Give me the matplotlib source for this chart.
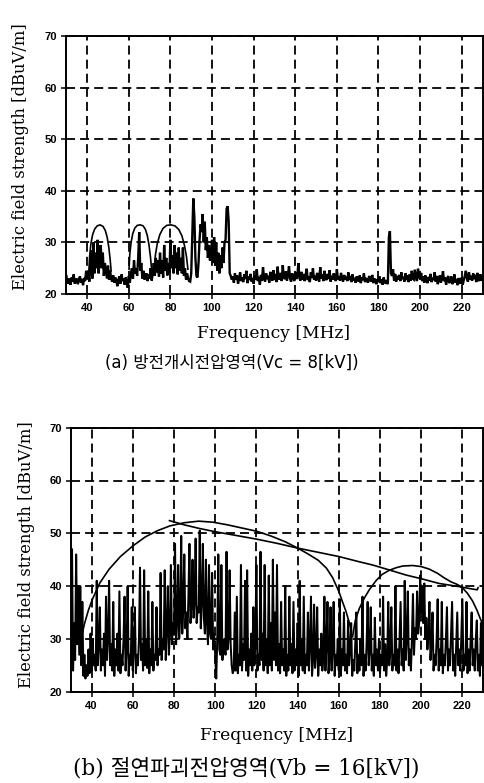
import numpy as np
import matplotlib
matplotlib.use("Agg")
import matplotlib.pyplot as plt

# ---------------- data ----------------
f_start = 30.0
f_step = 0.5

# (a) spectrum, 0.5 MHz steps from 30 MHz
top_level = [
    23.5, 22.0, 23.0, 22.5, 21.8, 23.2, 22.4, 23.8, 22.0, 22.6,
    23.0, 21.9, 22.8, 23.4, 22.2, 22.9, 21.7, 23.1, 22.5, 24.5,
    23.0, 24.5, 22.4, 25.5, 28.5, 23.0, 30.0, 24.0, 28.0, 25.0,
    30.5, 24.0, 27.0, 29.5, 25.0, 28.0, 23.5, 26.0, 24.5, 23.0,
    25.5, 22.8, 24.5, 23.0, 22.4, 23.6, 22.2, 23.2, 22.6, 21.5,
    22.8, 23.4, 22.0, 23.8, 22.5, 23.0, 21.8, 23.2, 22.4, 21.2,
    23.5, 22.2, 24.0, 25.0, 23.0, 26.5, 24.0, 25.0, 23.5, 27.0,
    32.0, 24.5, 26.0, 23.0, 24.5, 22.8, 23.5, 24.0, 22.5, 23.8,
    23.0, 25.0, 22.6, 24.0, 26.0, 23.5, 27.0, 24.2, 26.5, 23.4,
    28.0, 24.0, 26.5, 23.2, 29.5, 24.5, 27.0, 23.6, 26.0, 24.2,
    30.5, 25.0, 27.5, 24.0, 29.5, 25.0, 28.0, 23.8, 29.0, 24.5,
    27.0, 24.0, 29.0, 23.5, 25.0, 22.8, 24.0, 23.0, 22.5, 22.4,
    24.0, 31.0, 38.5, 35.0, 27.0, 23.5, 23.2, 26.0, 30.5, 33.5,
    32.0, 35.5, 30.0, 34.0, 28.5, 31.0, 27.0, 29.5, 26.5, 28.0,
    30.5, 26.0, 31.0, 25.5, 30.0, 24.5, 28.0, 24.0, 27.5, 25.0,
    29.0, 26.0, 30.0, 30.5, 36.5, 37.0, 34.0, 24.0, 23.5, 22.8,
    23.4, 22.2, 24.0, 22.8, 23.6, 22.0, 23.0, 24.2, 22.5, 23.2,
    22.3, 23.8, 22.9, 24.5, 22.1, 23.4, 22.7, 23.9, 22.4, 23.1,
    22.0, 23.6, 22.8, 24.8, 22.5, 23.3, 21.8, 23.7, 22.6, 25.2,
    23.0, 22.4, 24.0, 22.9, 23.5, 22.2, 24.3, 23.0, 22.6, 24.6,
    22.7, 23.9, 22.3, 25.3, 23.1, 22.8, 24.1, 22.5, 25.6, 23.2,
    22.9, 24.4, 22.6, 23.7, 25.4, 23.0, 22.4, 24.0, 23.3, 22.5,
    24.2, 22.9, 23.5, 26.0, 23.1, 22.6, 24.3, 22.8, 23.9, 22.5,
    23.6, 24.9, 22.7, 23.4, 22.3, 24.2, 23.1, 25.0, 22.8, 23.5,
    22.6, 24.1, 23.2, 22.4, 25.2, 23.0, 23.8, 22.5, 24.5, 23.1,
    22.7, 23.9, 22.9, 24.6, 22.4, 23.5, 22.8, 24.0, 23.2, 22.5,
    24.8, 22.9, 23.4, 22.6, 24.1, 23.0, 22.4, 23.7, 22.8, 23.3,
    22.5, 24.2, 22.7, 23.5, 22.3, 23.8, 22.6, 23.1, 22.2, 23.4,
    22.8, 22.4, 23.6, 22.1, 23.2, 22.7, 24.0, 22.3, 23.1, 22.6,
    22.2, 23.5, 22.8, 22.4, 23.7, 22.1, 23.0, 22.6, 21.9, 22.9,
    22.3, 23.4, 22.1, 22.8, 21.8, 23.2, 22.4, 22.0, 22.7, 21.9,
    31.0, 32.2, 24.0, 23.5, 24.8, 22.6, 23.9, 22.4, 23.5, 22.8,
    23.7, 22.5, 24.2, 22.9, 23.3, 22.4, 24.0, 22.7, 23.6, 22.3,
    23.8, 22.6, 24.5, 23.0, 22.8, 24.7, 23.2, 22.5, 24.9, 23.4,
    22.9, 24.1, 22.5, 23.4, 22.2, 23.6, 22.8, 22.1, 23.3, 22.6,
    23.9, 22.3, 23.1, 22.7, 24.2, 22.4, 23.5, 21.9, 22.8, 23.6,
    22.2, 23.0, 24.4, 22.5, 23.2, 21.8, 22.9, 23.5, 22.1, 22.7,
    23.4, 21.9, 22.6, 23.8, 22.2, 22.9, 21.7, 23.1, 22.4, 22.0,
    23.2, 21.8, 22.7, 23.5, 24.5, 23.0, 22.4, 24.2, 22.8, 23.5,
    22.6, 24.0, 22.9, 23.7, 22.3, 24.1, 23.0, 22.5, 23.8, 22.6,
    23.2,
]

# (b) spectrum, 0.5 MHz steps from 30 MHz
bottom_level = [
    25, 47, 24, 33, 26, 46, 29, 40, 27, 40,
    25, 37, 23, 27, 22.5, 25, 23, 28, 23.5, 31,
    24, 30, 25, 27, 24, 41, 25, 29, 36, 24,
    28, 25, 31, 23, 38, 26, 30, 41, 25, 29,
    24, 37, 23, 28, 25, 31, 24, 39, 23.5, 27,
    25, 30, 38, 24, 28, 40, 23, 27, 25, 36,
    24, 28, 36, 23.5, 27, 25, 30, 43.5, 26, 29,
    24, 43, 25, 30, 24.5, 39, 23.5, 28, 25, 37,
    24, 27, 26, 36, 25, 28, 27, 42.5, 26, 30,
    28, 43, 26, 32, 40, 27, 31, 44, 29, 33,
    31, 48, 29, 33, 44, 30, 34, 49.5, 31, 36,
    46, 32, 35, 30, 38, 48, 33, 36, 45, 34,
    37, 49, 33, 36, 35, 50.5, 32, 37, 48, 34,
    31, 45, 33, 29, 44, 31, 30, 42.5, 28, 31,
    27, 22.5, 30, 46, 28, 27, 44, 26, 29, 30,
    27, 46.5, 28, 30, 43, 29, 25, 23.5, 24, 35,
    24, 38, 23.5, 27, 25, 44, 24, 29, 26, 41,
    24, 43, 23, 28, 25, 31, 24, 36, 25, 30,
    44, 24, 27, 25, 46.5, 26, 31, 24, 44, 25,
    30, 23.5, 42, 25, 33, 24, 45, 26, 35, 25,
    44, 24, 29, 23.5, 37, 25, 28, 24, 40, 23,
    27, 24, 38, 25, 29, 23.5, 37, 24, 28, 25,
    33, 23, 41, 25, 30, 24, 38, 23.5, 27, 25,
    35, 24, 29, 38, 23, 26, 36.5, 24.5, 27, 36,
    23, 28, 25, 31, 24, 27, 38, 24, 29, 37,
    23.5, 26, 36, 24, 28, 37, 23, 27, 25, 30,
    24, 37.5, 23, 28, 25, 35, 24, 27, 23.5, 33.5,
    25, 28, 33, 23, 26, 24, 29, 35, 23.5, 27,
    24, 30, 25, 38, 23, 27, 24, 29, 37, 25,
    28, 36, 24, 27, 23, 34, 25, 28, 24, 30,
    23.5, 27, 25, 38, 24, 29, 23, 26, 37, 25,
    28, 36, 24, 27, 25, 40, 24, 28, 23.5, 30,
    37, 25, 28, 24, 41, 26, 30, 39, 25, 28,
    24, 30, 38.5, 27, 32, 30, 39, 31, 33, 42,
    35, 40, 33, 40.5, 30, 34, 28, 31, 37, 26,
    29, 35, 24, 27, 25, 30, 37.5, 24, 28, 25,
    37, 23.5, 27, 25, 30, 36, 24, 28, 25, 31,
    37, 24, 27, 23, 29, 35, 25, 28, 24, 31,
    37.5, 24, 27, 25, 37, 23.5, 28, 24, 30, 35,
    25, 28, 24, 30, 33.5, 24, 27, 23, 33, 25,
    26,
]

# hand-drawn envelope arcs, (a)
arc_a1_f = [40.8, 41.2, 41.8, 42.6, 43.6, 44.8, 46.2, 47.6, 48.7, 49.6, 50.4, 51.0, 51.5]
arc_a1_v = [24.5, 27.5, 29.8, 31.5, 32.6, 33.2, 33.4, 33.1, 32.3, 31.0, 29.0, 26.8, 24.5]
arc_a2_f = [60.1, 60.5, 61.1, 61.9, 62.9, 64.1, 65.5, 66.9, 68.0, 68.9, 69.7, 70.4, 70.9]
arc_a2_v = [24.8, 27.8, 30.0, 31.7, 32.8, 33.3, 33.4, 33.2, 32.5, 31.3, 29.5, 27.2, 25.0]
arc_a3_f = [72.2, 72.8, 73.7, 74.9, 76.4, 78.2, 80.2, 82.2, 84.0, 85.5, 86.7, 87.7, 88.4]
arc_a3_v = [24.8, 27.6, 29.8, 31.5, 32.7, 33.3, 33.4, 33.2, 32.5, 31.3, 29.5, 27.3, 24.8]

# hand-drawn envelope arcs and trend line, (b)
arc_b1_f = [34.8, 36.5, 38.5, 40.5, 44.0, 48.5, 54.0, 60.0, 66.0, 72.0, 78.0, 85.0,
            92.0, 99.0, 106.0, 113.0, 120.0, 127.0, 134.0, 140.0, 145.0, 150.0,
            154.0, 157.0, 160.0, 162.0, 163.5, 165.0, 166.0]
arc_b1_v = [29.8, 32.8, 35.5, 37.6, 40.6, 43.2, 45.6, 47.6, 49.3, 50.5, 51.4, 52.0,
            52.3, 52.1, 51.6, 51.0, 50.4, 49.5, 48.4, 47.2, 46.1, 44.9,
            43.4, 41.6, 39.0, 36.8, 35.2, 33.2, 31.5]
arc_b2_f = [166.7, 168.0, 170.0, 172.5, 174.8, 178.0, 181.0, 184.5, 188.0, 191.0,
            195.8, 200.0, 204.0, 208.0, 211.0, 214.5, 217.6, 220.0, 222.5, 224.9,
            227.0, 228.5, 229.8]
arc_b2_v = [30.4, 33.5, 35.8, 37.8, 39.3, 41.0, 42.2, 43.0, 43.5, 43.8,
            43.9, 43.7, 43.2, 42.4, 41.6, 40.8, 40.3, 39.7, 38.6, 37.2,
            35.5, 34.0, 32.8]
trend_b_f = [77.8, 85.0, 92.5, 100.0, 110.0, 120.0, 130.0, 140.0, 150.0, 160.0,
             170.0, 176.4, 185.0, 192.6, 200.0, 208.7, 218.4, 224.0, 227.2, 227.6]
trend_b_v = [52.4, 51.6, 50.9, 50.3, 49.6, 48.9, 48.1, 47.2, 46.4, 45.6,
             44.6, 44.0, 43.0, 42.1, 41.4, 40.5, 39.9, 39.5, 39.3, 39.7]

x_ticks = [40, 60, 80, 100, 120, 140, 160, 180, 200, 220]
y_ticks = [20, 30, 40, 50, 60, 70]
y_label = "Electric field strength [dBuV/m]"
x_label = "Frequency [MHz]"
caption_a = "(a) 방전개시전압영역(Vc = 8[kV])"
caption_b = "(b) 절연파괴전압영역(Vb = 16[kV])"

# ---------------- drawing ----------------
W, H = 484, 783
fig = plt.figure(figsize=(W / 100, H / 100), dpi=100)


def style_axes(ax):
    ax.set_xlim(30, 230)
    ax.set_ylim(20, 70)
    ax.set_xticks(x_ticks)
    ax.set_yticks(y_ticks)
    ax.grid(True, color="black", linewidth=1.3, linestyle=(0, (5.0, 2.8)))
    ax.set_axisbelow(True)
    for s in ax.spines.values():
        s.set_linewidth(1.4)
        s.set_color("black")
    ax.tick_params(direction="out", length=3.5, width=1.1, pad=3, colors="black")
    for lab in ax.get_xticklabels() + ax.get_yticklabels():
        lab.set_fontfamily("Liberation Sans")
        lab.set_fontweight("bold")
        lab.set_fontsize(8)


def px_axes(left, top, right, bottom):
    return [left / W, 1 - bottom / H, (right - left) / W, (bottom - top) / H]


ax1 = fig.add_axes(px_axes(66.4, 36, 482.5, 294))
f_top = f_start + f_step * np.arange(len(top_level))
ax1.plot(f_top, top_level, color="black", lw=1.7, solid_joinstyle="miter")
for af, av in [(arc_a1_f, arc_a1_v), (arc_a2_f, arc_a2_v), (arc_a3_f, arc_a3_v)]:
    ax1.plot(af, av, color="black", lw=1.2)
style_axes(ax1)

ax2 = fig.add_axes(px_axes(71, 427.7, 483, 691.7))
f_bot = f_start + f_step * np.arange(len(bottom_level))
ax2.plot(f_bot, bottom_level, color="black", lw=1.45)
for af, av in [(arc_b1_f, arc_b1_v), (arc_b2_f, arc_b2_v), (trend_b_f, trend_b_v)]:
    ax2.plot(af, av, color="black", lw=1.2)
style_axes(ax2)

serif = ["DejaVu Serif"]
fig.text(21 / W, 1 - 290 / H, y_label, rotation=90, ha="center", va="bottom",
         family=serif, fontsize=11.8)
fig.text(27 / W, 1 - 688 / H, y_label, rotation=90, ha="center", va="bottom",
         family=serif, fontsize=11.8)
fig.text(274 / W, 1 - 334 / H, x_label, ha="center", va="center",
         family=serif, fontsize=12.3)
fig.text(277 / W, 1 - 735 / H, x_label, ha="center", va="center",
         family=serif, fontsize=12.3)
fig.text(232 / W, 1 - 363 / H, caption_a, ha="center", va="center",
         family=["DejaVu Sans", "Noto Sans CJK KR"], fontsize=12)
fig.text(246 / W, 1 - 768 / H, caption_b, ha="center", va="center",
         family=["DejaVu Serif", "Noto Sans CJK KR"], fontsize=15.5)

fig.savefig("out.png", dpi=100, facecolor="white")
